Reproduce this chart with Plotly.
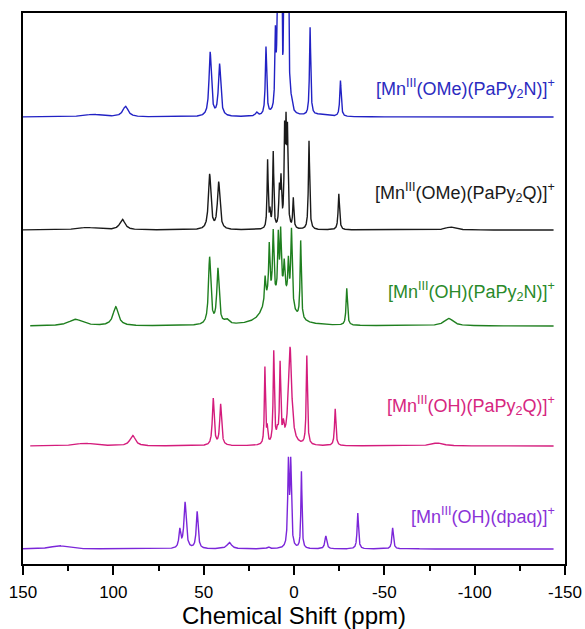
import numpy as np
import plotly.graph_objects as go

# 1H NMR peak tables (ppm position, intensity, line width in ppm) for each complex
ome_papy2n_pos = [111.5, 93.3, 46.4, 41.2, 20.7, 15.5, 10.3, 9.2, 8.2, 7.0, 5.4, 4.3, 3.4, 1.5, -8.9, -14.0, -25.7]
ome_papy2n_int = [2.5, 10.5, 64, 52, 3.5, 68, 70, 75, 200, 200, 200, 200, 220, 6, 88, 2, 36]
ome_papy2n_wid = [12, 3.5, 1.5, 1.5, 1.5, 0.9, 0.7, 0.7, 1.0, 0.5, 0.5, 0.8, 0.8, 0.8, 0.8, 10, 0.9]

ome_papy2q_pos = [114.6, 95.0, 46.7, 41.7, 14.6, 13.3, 11.5, 8.1, 7.2, 5.2, 4.4, 3.6, 0.4, -8.3, -24.8, -86.5]
ome_papy2q_int = [2.5, 10.5, 55, 47, 68, 15, 76, 36, 45, 88, 88, 88, 30, 89, 36, 3]
ome_papy2q_wid = [12, 3.5, 1.6, 1.6, 0.7, 0.7, 0.7, 0.8, 0.8, 0.7, 0.7, 0.7, 0.7, 0.8, 0.9, 6]

oh_papy2n_pos = [120.9, 98.7, 46.7, 42.1, 37.3, 14.0, 6.0, 16.0, 13.7, 11.5, 8.7, 7.4, 5.4, 3.1, 1.4, -3.7, -29.2, -85.6]
oh_papy2n_int = [6.5, 19, 67, 55, 4.5, 22, 30, 25, 50, 65, 58, 58, 28, 38, 78, 78, 37, 7.5]
oh_papy2n_wid = [9, 3.5, 1.5, 1.5, 3, 8, 9, 0.8, 0.8, 0.9, 0.8, 0.8, 0.8, 0.8, 1.0, 0.8, 0.9, 6]

oh_papy2q_pos = [115.9, 89.3, 44.7, 40.6, 16.1, 14.8, 11.2, 9.2, 7.7, 5.9, 2.2, -7.1, -22.8, -79.2]
oh_papy2q_int = [2.7, 10.5, 47, 41, 77, 15, 92, 10, 78, 15, 98, 89, 37, 3]
oh_papy2q_wid = [12, 3.5, 1.2, 1.2, 0.7, 0.7, 0.8, 1.0, 0.8, 1.0, 2.2, 0.8, 0.9, 8]

oh_dpaq_pos = [130.1, 63.2, 60.3, 53.6, 35.8, 14.2, 3.1, 1.8, -4.1, -17.6, -35.3, -54.6, -66.0]
oh_dpaq_int = [3.3, 18, 46, 37, 6.5, 2, 83, 83, 77, 13, 36, 21, 1]
oh_dpaq_wid = [10, 1.2, 1.5, 1.2, 3, 1.5, 0.9, 0.9, 0.7, 1.2, 0.9, 1.0, 4]

tick_values = [150, 100, 50, 0, -50, -100, -150]
tick_labels = ["150", "100", "50", "0", "-50", "-100", "-150"]

names = [
    "[Mn<sup>III</sup>(OMe)(PaPy<sub>2</sub>N)]<sup>+</sup>",
    "[Mn<sup>III</sup>(OMe)(PaPy<sub>2</sub>Q)]<sup>+</sup>",
    "[Mn<sup>III</sup>(OH)(PaPy<sub>2</sub>N)]<sup>+</sup>",
    "[Mn<sup>III</sup>(OH)(PaPy<sub>2</sub>Q)]<sup>+</sup>",
    "[Mn<sup>III</sup>(OH)(dpaq)]<sup>+</sup>",
]
peak_tables = [
    (ome_papy2n_pos, ome_papy2n_int, ome_papy2n_wid),
    (ome_papy2q_pos, ome_papy2q_int, ome_papy2q_wid),
    (oh_papy2n_pos, oh_papy2n_int, oh_papy2n_wid),
    (oh_papy2q_pos, oh_papy2q_int, oh_papy2q_wid),
    (oh_dpaq_pos, oh_dpaq_int, oh_dpaq_wid),
]
ppm_start = [150, 150, 146, 146, 150]
ppm_end = -143.7
offsets = [447, 334, 238, 118, 15]
label_y = [476, 372, 273, 159, 49]
colors = ["#2222c4", "#1a1a1a", "#1f7f1f", "#d41c7c", "#7b26d9"]
label_colors = ["#2b2bbf", "#1a1a1a", "#2a8a2a", "#d6267f", "#8a32d8"]

FONT = "Liberation Sans, Arial, sans-serif"


def spectrum(ppm, pos, inten, wid):
    """Sum of Lorentzian lines."""
    y = np.zeros_like(ppm)
    for p, h, w in zip(pos, inten, wid):
        hw = w / 2.0
        y += h * hw ** 2 / ((ppm - p) ** 2 + hw ** 2)
    return y


fig = go.Figure()
for i, (pos, inten, wid) in enumerate(peak_tables):
    ppm = np.arange(ppm_start[i], ppm_end, -0.03)
    fig.add_trace(go.Scatter(
        x=ppm, y=spectrum(ppm, pos, inten, wid) + offsets[i],
        mode="lines", line=dict(color=colors[i], width=1.4),
        showlegend=False, hoverinfo="skip",
    ))
    fig.add_annotation(
        x=-145.5, y=label_y[i], xref="x", yref="y",
        text=names[i], showarrow=False, xanchor="right", yanchor="middle",
        font=dict(family=FONT, size=18, color=label_colors[i]),
    )

fig.update_layout(
    width=585, height=629,
    margin=dict(l=23, r=20, t=13, b=65, autoexpand=False),
    paper_bgcolor="white", plot_bgcolor="white",
    font=dict(family=FONT, color="black"),
)
fig.update_xaxes(
    range=[150, -150], tickvals=tick_values, ticktext=tick_labels,
    ticks="outside", ticklen=9, tickwidth=2, tickcolor="black",
    ticklabelstandoff=3,
    minor=dict(dtick=25, ticks="outside", ticklen=5, tickwidth=1.5, tickcolor="black"),
    showline=True, linewidth=2, linecolor="black", mirror=True,
    showgrid=False, zeroline=False, automargin=False,
    tickfont=dict(family=FONT, size=17, color="black"),
    title=dict(text="Chemical Shift (ppm)", font=dict(family=FONT, size=24, color="black"), standoff=14),
)
fig.update_yaxes(
    range=[0, 551], showticklabels=False, ticks="",
    showline=True, linewidth=2, linecolor="black", mirror=True,
    showgrid=False, zeroline=False, automargin=False,
)

fig.write_html("out.html")
